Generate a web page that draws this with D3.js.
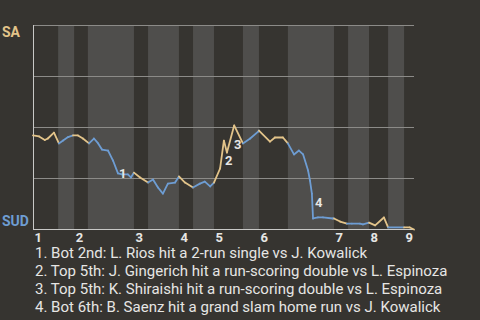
<!DOCTYPE html>
<html>
<head>
<meta charset="utf-8">
<script src="https://cdn.jsdelivr.net/npm/d3@7"></script>
<style>
  html, body { margin: 0; padding: 0; background: #363430; }
  svg { display: block; }
</style>
</head>
<body>
<svg id="chart" width="480" height="320"></svg>
<script>
// ---- DATA ----
const awayTeam = "SA";
const homeTeam = "SUD";
const innings = ["1", "2", "3", "4", "5", "6", "7", "8", "9"];
// game progress (0-100) where each half-inning starts (top 1, bot 1, top 2, ...)
const halfInningStarts = [0, 6.6, 10.8, 14.4, 26.5, 30.2, 38.3, 42.0, 47.5, 55.1, 59.3, 66.9, 79.0, 82.7, 88.2, 93.2, 97.4];
const gameEnd = 100;
// win probability line: game progress and SA win probability (%)
const progress = [0, 1.6, 3.1, 3.9, 5.5, 6.8, 7.9, 9.2, 10.5, 11.8, 13.1, 14.7, 16.0, 17.1, 18.1, 19.7, 21.0, 22.3, 23.4, 24.9,
  25.7, 26.5, 28.1, 30.2, 31.5, 32.8, 34.1, 35.4, 37.3, 38.3, 39.9, 42.0, 43.8, 45.1, 46.5, 47.5, 49.1, 50.1, 50.9, 52.8,
  55.1, 57.0, 59.1, 59.3, 62.2, 63.5, 65.6, 66.9, 68.5, 69.8, 70.9, 72.2, 72.7, 73.2, 73.5, 74.8, 76.1, 78.7, 79.0, 80.6,
  82.4, 83.7, 85.8, 86.6, 88.2, 89.8, 92.1, 93.2, 97.4, 98.9, 100];
const saWinProb = [46.1, 45.6, 43.9, 44.6, 47.5, 42.2, 43.6, 45.3, 46.1, 46.1, 44.6, 42.2, 44.6, 42.2, 39.2, 38.7, 33.8, 27.5, 27.0, 27.0,
  25.5, 27.9, 25.5, 23.0, 24.5, 20.6, 17.6, 22.5, 23.0, 26.0, 23.0, 20.6, 22.5, 23.5, 21.1, 23.0, 29.9, 43.6, 37.7, 51.0,
  42.2, 44.6, 48.0, 48.5, 43.1, 45.1, 45.1, 42.2, 36.8, 38.7, 36.8, 28.9, 24.0, 17.6, 5.4, 5.9, 5.9, 5.4, 5.4, 3.9,
  2.9, 2.9, 2.9, 2.5, 3.4, 2.0, 5.9, 1.0, 1.0, 1.0, 0];
// key plays: index into the line points and description
const keyPlayIndex = [17, 38, 40, 53];
const keyPlayText = [
  "1. Bot 2nd: L. Rios hit a 2-run single vs J. Kowalick",
  "2. Top 5th: J. Gingerich hit a run-scoring double vs L. Espinoza",
  "3. Top 5th: K. Shiraishi hit a run-scoring double vs L. Espinoza",
  "4. Bot 6th: B. Saenz hit a grand slam home run vs J. Kowalick"
];
const yTicks = [0, 25, 50, 75, 100];

// ---- STYLE ----
const bg = "#363430", band = "#4f4e4c", grid = "#8c8b88", axisCol = "#c8c8c6";
const awayCol = "#e3c48a", homeCol = "#6e9dd3", textCol = "#e6e6e4";
const font = "Roboto, 'Noto Sans', sans-serif";

const svg = d3.select("#chart");
svg.append("rect").attr("width", 480).attr("height", 320).attr("fill", bg);

const x = d3.scaleLinear().domain([0, gameEnd]).range([33, 414]);
const y = d3.scaleLinear().domain([0, 100]).range([229.5, 25.5]);

// half-inning bands
const halves = halfInningStarts.map((s, i) => ({
  start: s,
  end: i + 1 < halfInningStarts.length ? halfInningStarts[i + 1] : gameEnd,
  bottom: i % 2 === 1
}));
svg.append("g").selectAll("rect").data(halves.filter(h => h.bottom)).join("rect")
  .attr("x", d => x(d.start)).attr("width", d => x(d.end) - x(d.start))
  .attr("y", y(100) - 0.5).attr("height", y(0) - y(100))
  .attr("fill", band);

// gridlines
svg.append("g").selectAll("line").data(yTicks.filter(t => t > 0)).join("line")
  .attr("x1", x(0)).attr("x2", x(gameEnd))
  .attr("y1", d => y(d)).attr("y2", d => y(d))
  .attr("stroke", grid).attr("stroke-width", 1);

// axes lines
svg.append("line").attr("x1", x(0) + 0.5).attr("x2", x(0) + 0.5)
  .attr("y1", y(100) - 0.5).attr("y2", y(0) + 0.5)
  .attr("stroke", axisCol).attr("stroke-width", 1);
svg.append("line").attr("x1", x(0)).attr("x2", x(gameEnd))
  .attr("y1", y(0)).attr("y2", y(0))
  .attr("stroke", axisCol).attr("stroke-width", 1);

// win probability line, colored by half-inning
const pts = progress.map((p, i) => ({ x: p, v: saWinProb[i] }));
function halfOf(p) {
  let idx = 0;
  halfInningStarts.forEach((s, i) => { if (p >= s) idx = i; });
  return idx;
}
const segs = [];
for (let i = 0; i < pts.length - 1; i++) {
  const mid = (pts[i].x + pts[i + 1].x) / 2;
  segs.push({ a: pts[i], b: pts[i + 1], bottom: halfOf(mid) % 2 === 1 });
}
const line = d3.line().x(d => x(d.x)).y(d => y(d.v));
svg.append("g").selectAll("path").data(segs).join("path")
  .attr("d", d => line([d.a, d.b]))
  .attr("fill", "none")
  .attr("stroke", d => d.bottom ? homeCol : awayCol)
  .attr("stroke-width", 1.8)
  .attr("stroke-linecap", "round")
  .attr("stroke-linejoin", "round");

// key play markers
const markerOffsets = [[1, 5], [-2, 12], [-9, 6], [3, 13]];
svg.append("g").selectAll("text").data(keyPlayIndex).join("text")
  .attr("x", (d, i) => x(pts[d].x) + markerOffsets[i][0])
  .attr("y", (d, i) => y(pts[d].v) + markerOffsets[i][1])
  .attr("text-anchor", "start")
  .attr("font-family", font).attr("font-weight", "bold").attr("font-size", 13)
  .attr("fill", textCol)
  .text((d, i) => String(i + 1));

// team labels
svg.append("text").attr("x", 2).attr("y", y(100) + 11)
  .attr("font-family", font).attr("font-weight", "bold").attr("font-size", 14)
  .attr("fill", awayCol).text(awayTeam);
svg.append("text").attr("x", 2).attr("y", y(0) - 4)
  .attr("font-family", font).attr("font-weight", "bold").attr("font-size", 14)
  .attr("fill", homeCol).text(homeTeam);

// inning labels
svg.append("g").selectAll("text").data(innings).join("text")
  .attr("x", (d, i) => x(halfInningStarts[i * 2]) + 1.5)
  .attr("y", 242)
  .attr("font-family", font).attr("font-weight", "bold").attr("font-size", 13)
  .attr("fill", textCol)
  .text(d => d);

// key play descriptions
svg.append("g").selectAll("text").data(keyPlayText).join("text")
  .attr("x", 35).attr("y", (d, i) => 258 + i * 18)
  .attr("font-family", font).attr("font-size", 15)
  .attr("fill", textCol)
  .text(d => d);
</script>
</body>
</html>
